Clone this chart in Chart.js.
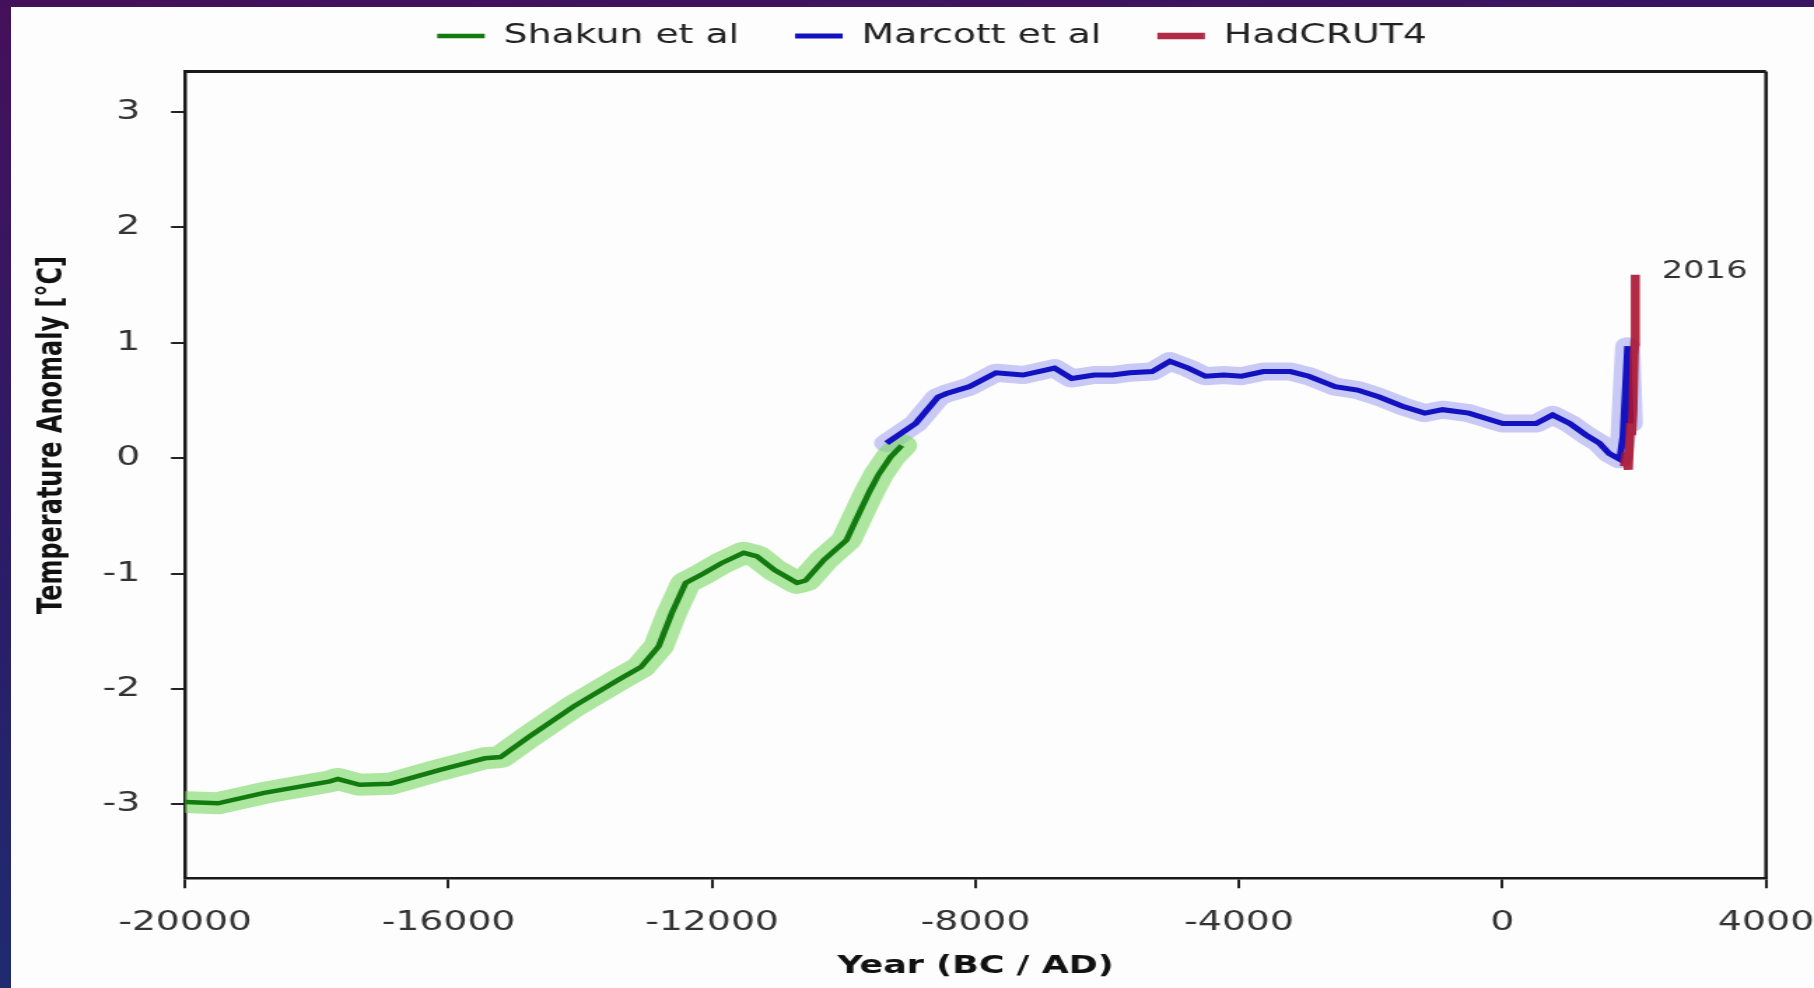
<!DOCTYPE html>
<html>
<head>
<meta charset="utf-8">
<script src="https://cdn.jsdelivr.net/npm/chart.js@4.4.1/dist/chart.umd.min.js"></script>
<style>
  html, body { margin: 0; padding: 0; }
  body {
    width: 1814px; height: 988px; overflow: hidden; position: relative;
    background: linear-gradient(172deg, #45105a 0%, #2b1c66 45%, #183474 100%);
  }
  #paper { position: absolute; left: 11px; top: 7px; right: 0; bottom: 0; background: #fdfdfd; }
  /* the original picture is a 4:3 chart stretched onto a wide slide */
  #myChart { position: absolute; left: 0; top: 0; transform: scaleX(1.39969); transform-origin: 0 0; }
</style>
</head>
<body>
<div id="paper"></div>
<canvas id="myChart" width="1296" height="988"></canvas>
<script>
// Shakun et al (green)
const shakunYears = [-20000, -19500, -18800, -17800, -17680, -17350, -16880, -16130, -15450, -15210,
  -14770, -14100, -13420, -13080, -12810, -12610, -12400, -12130, -11860, -11520,
  -11320, -11050, -10710, -10580, -10300, -9960, -9820, -9610, -9470, -9290, -9120];
const shakunTemps = [-2.98, -2.99, -2.90, -2.80, -2.78, -2.83, -2.82, -2.70, -2.60, -2.59,
  -2.41, -2.15, -1.92, -1.81, -1.63, -1.34, -1.08, -1.00, -0.91, -0.82,
  -0.85, -0.97, -1.08, -1.06, -0.88, -0.71, -0.54, -0.29, -0.14, 0.01, 0.11];

// Marcott et al (blue)
const marcottYears = [-9350, -8910, -8570, -8440, -8090, -7690, -7280, -6800, -6540, -6200,
  -5920, -5660, -5320, -5050, -4770, -4510, -4230, -3960, -3630, -3220,
  -2940, -2540, -2200, -1870, -1520, -1180, -910, -510, -110, 5,
  510, 760, 1020, 1270, 1470, 1620, 1780, 1830, 1900, 1940];
const marcottTemps = [0.13, 0.30, 0.53, 0.56, 0.62, 0.74, 0.72, 0.78, 0.69, 0.72,
  0.72, 0.74, 0.75, 0.84, 0.78, 0.71, 0.72, 0.71, 0.75, 0.75,
  0.71, 0.62, 0.59, 0.53, 0.45, 0.39, 0.42, 0.39, 0.32, 0.30,
  0.30, 0.375, 0.30, 0.20, 0.13, 0.04, -0.01, 0.19, 0.97, 0.30];

// HadCRUT4 (red)
const hadYears = [1850, 1880, 1910, 1940, 1960, 1980, 1998, 2010, 2016];
const hadTemps = [-0.07, 0.05, -0.10, 0.30, 0.20, 0.40, 0.90, 1.00, 1.59];

const xTicks = [-20000, -16000, -12000, -8000, -4000, 0, 4000];
const yTicks = [-3, -2, -1, 0, 1, 2, 3];
const seriesNames = ['Shakun et al', 'Marcott et al', 'HadCRUT4'];
const xTitle = 'Year (BC / AD)';
const yTitle = 'Temperature Anomaly [°C]';
const endLabel = '2016';

const toPoints = (xs, ys) => xs.map((x, i) => ({ x: x, y: ys[i] }));

Chart.defaults.font.family = "'DejaVu Sans', Verdana, sans-serif";

// legend needs a bit more room underneath than chart.js gives it
const legendSpacer = {
  id: 'legendSpacer',
  beforeLayout(chart) {
    const legend = chart.legend;
    if (!legend || legend._spaced) return;
    const fit = legend.fit;
    legend.fit = function () {
      fit.call(this);
      this.height += 12.1;
    };
    legend._spaced = true;
  }
};

const frameAndLabels = {
  id: 'frameAndLabels',
  afterDraw(chart) {
    const { ctx, chartArea, scales } = chart;
    ctx.save();
    ctx.strokeStyle = '#1a1a1a';
    ctx.lineWidth = 3;
    ctx.beginPath();
    ctx.moveTo(chartArea.left, chartArea.top);
    ctx.lineTo(chartArea.right, chartArea.top);
    ctx.stroke();
    ctx.lineWidth = 2.5;
    ctx.beginPath();
    ctx.moveTo(chartArea.right, chartArea.top);
    ctx.lineTo(chartArea.right, chartArea.bottom);
    ctx.stroke();

    // "2016" next to the last HadCRUT4 point
    const lx = scales.x.getPixelForValue(hadYears[hadYears.length - 1]);
    const ly = scales.y.getPixelForValue(hadTemps[hadTemps.length - 1]);
    ctx.font = "24px 'DejaVu Sans'";
    ctx.fillStyle = '#333';
    ctx.textAlign = 'left';
    ctx.textBaseline = 'middle';
    ctx.fillText(endLabel, lx + 19, ly - 3);

    // y axis title
    ctx.translate(38, 435);
    ctx.rotate(-Math.PI / 2);
    ctx.font = "bold 24px 'DejaVu Sans'";
    ctx.fillStyle = '#111';
    ctx.textAlign = 'center';
    ctx.fillText(yTitle, 0, 0);
    ctx.restore();
  }
};

const axisGrid = { drawOnChartArea: false, drawTicks: true, tickLength: 10, color: '#222', lineWidth: 2 };
const axisBorder = { display: true, color: '#1a1a1a', width: 2.5 };

new Chart(document.getElementById('myChart'), {
  type: 'line',
  data: {
    datasets: [
      { label: seriesNames[0], data: toPoints(shakunYears, shakunTemps), borderColor: '#137a10',
        borderWidth: 4.5, pointRadius: 0, tension: 0, order: 1 },
      { label: seriesNames[1], data: toPoints(marcottYears, marcottTemps), borderColor: '#1212c0',
        borderWidth: 5, pointRadius: 0, tension: 0, order: 1 },
      { label: seriesNames[2], data: toPoints(hadYears, hadTemps), borderColor: 'rgba(170,20,50,0.9)',
        borderWidth: 6.5, pointRadius: 0, tension: 0, order: 0 },
      // uncertainty bands
      { label: 'band1', data: toPoints(shakunYears, shakunTemps), borderColor: 'rgba(120,215,95,0.6)',
        borderWidth: 22, pointRadius: 0, tension: 0, order: 2, borderJoinStyle: 'round', borderCapStyle: 'round' },
      { label: 'band2', data: toPoints(marcottYears, marcottTemps), borderColor: 'rgba(150,150,240,0.5)',
        borderWidth: 18, pointRadius: 0, tension: 0, order: 2, borderJoinStyle: 'round', borderCapStyle: 'round' }
    ]
  },
  options: {
    responsive: false,
    animation: false,
    layout: { padding: { top: -17.6, left: 70, right: 34.3, bottom: 0 } },
    plugins: {
      tooltip: { enabled: false },
      legend: {
        position: 'top',
        labels: {
          font: { size: 27 },
          color: '#222',
          usePointStyle: true,
          pointStyle: 'line',
          pointStyleWidth: 34,
          padding: 40,
          filter: (item) => item.datasetIndex < 3,
          sort: (a, b) => a.datasetIndex - b.datasetIndex
        }
      }
    },
    scales: {
      x: {
        type: 'linear',
        min: -20000,
        max: 4000,
        afterBuildTicks: (axis) => { axis.ticks = xTicks.map(v => ({ value: v })); },
        afterFit: (scale) => { scale.height = 109.7; scale.paddingLeft = 0; scale.paddingRight = 0; },
        ticks: { font: { size: 27 }, color: '#333', padding: 18, maxRotation: 0, autoSkip: false,
          callback: (v) => String(v) },
        grid: axisGrid,
        border: axisBorder,
        title: { display: true, text: xTitle, font: { size: 25, weight: 'bold' }, color: '#111',
          padding: { top: 0, bottom: 7 } }
      },
      y: {
        min: -3.64,
        max: 3.35,
        afterBuildTicks: (axis) => { axis.ticks = yTicks.map(v => ({ value: v })); },
        afterFit: (scale) => { scale.width = 62.2; },
        ticks: { font: { size: 27 }, color: '#333', padding: 22, callback: (v) => String(v) },
        grid: axisGrid,
        border: axisBorder
      }
    }
  },
  plugins: [legendSpacer, frameAndLabels]
});
</script>
</body>
</html>
